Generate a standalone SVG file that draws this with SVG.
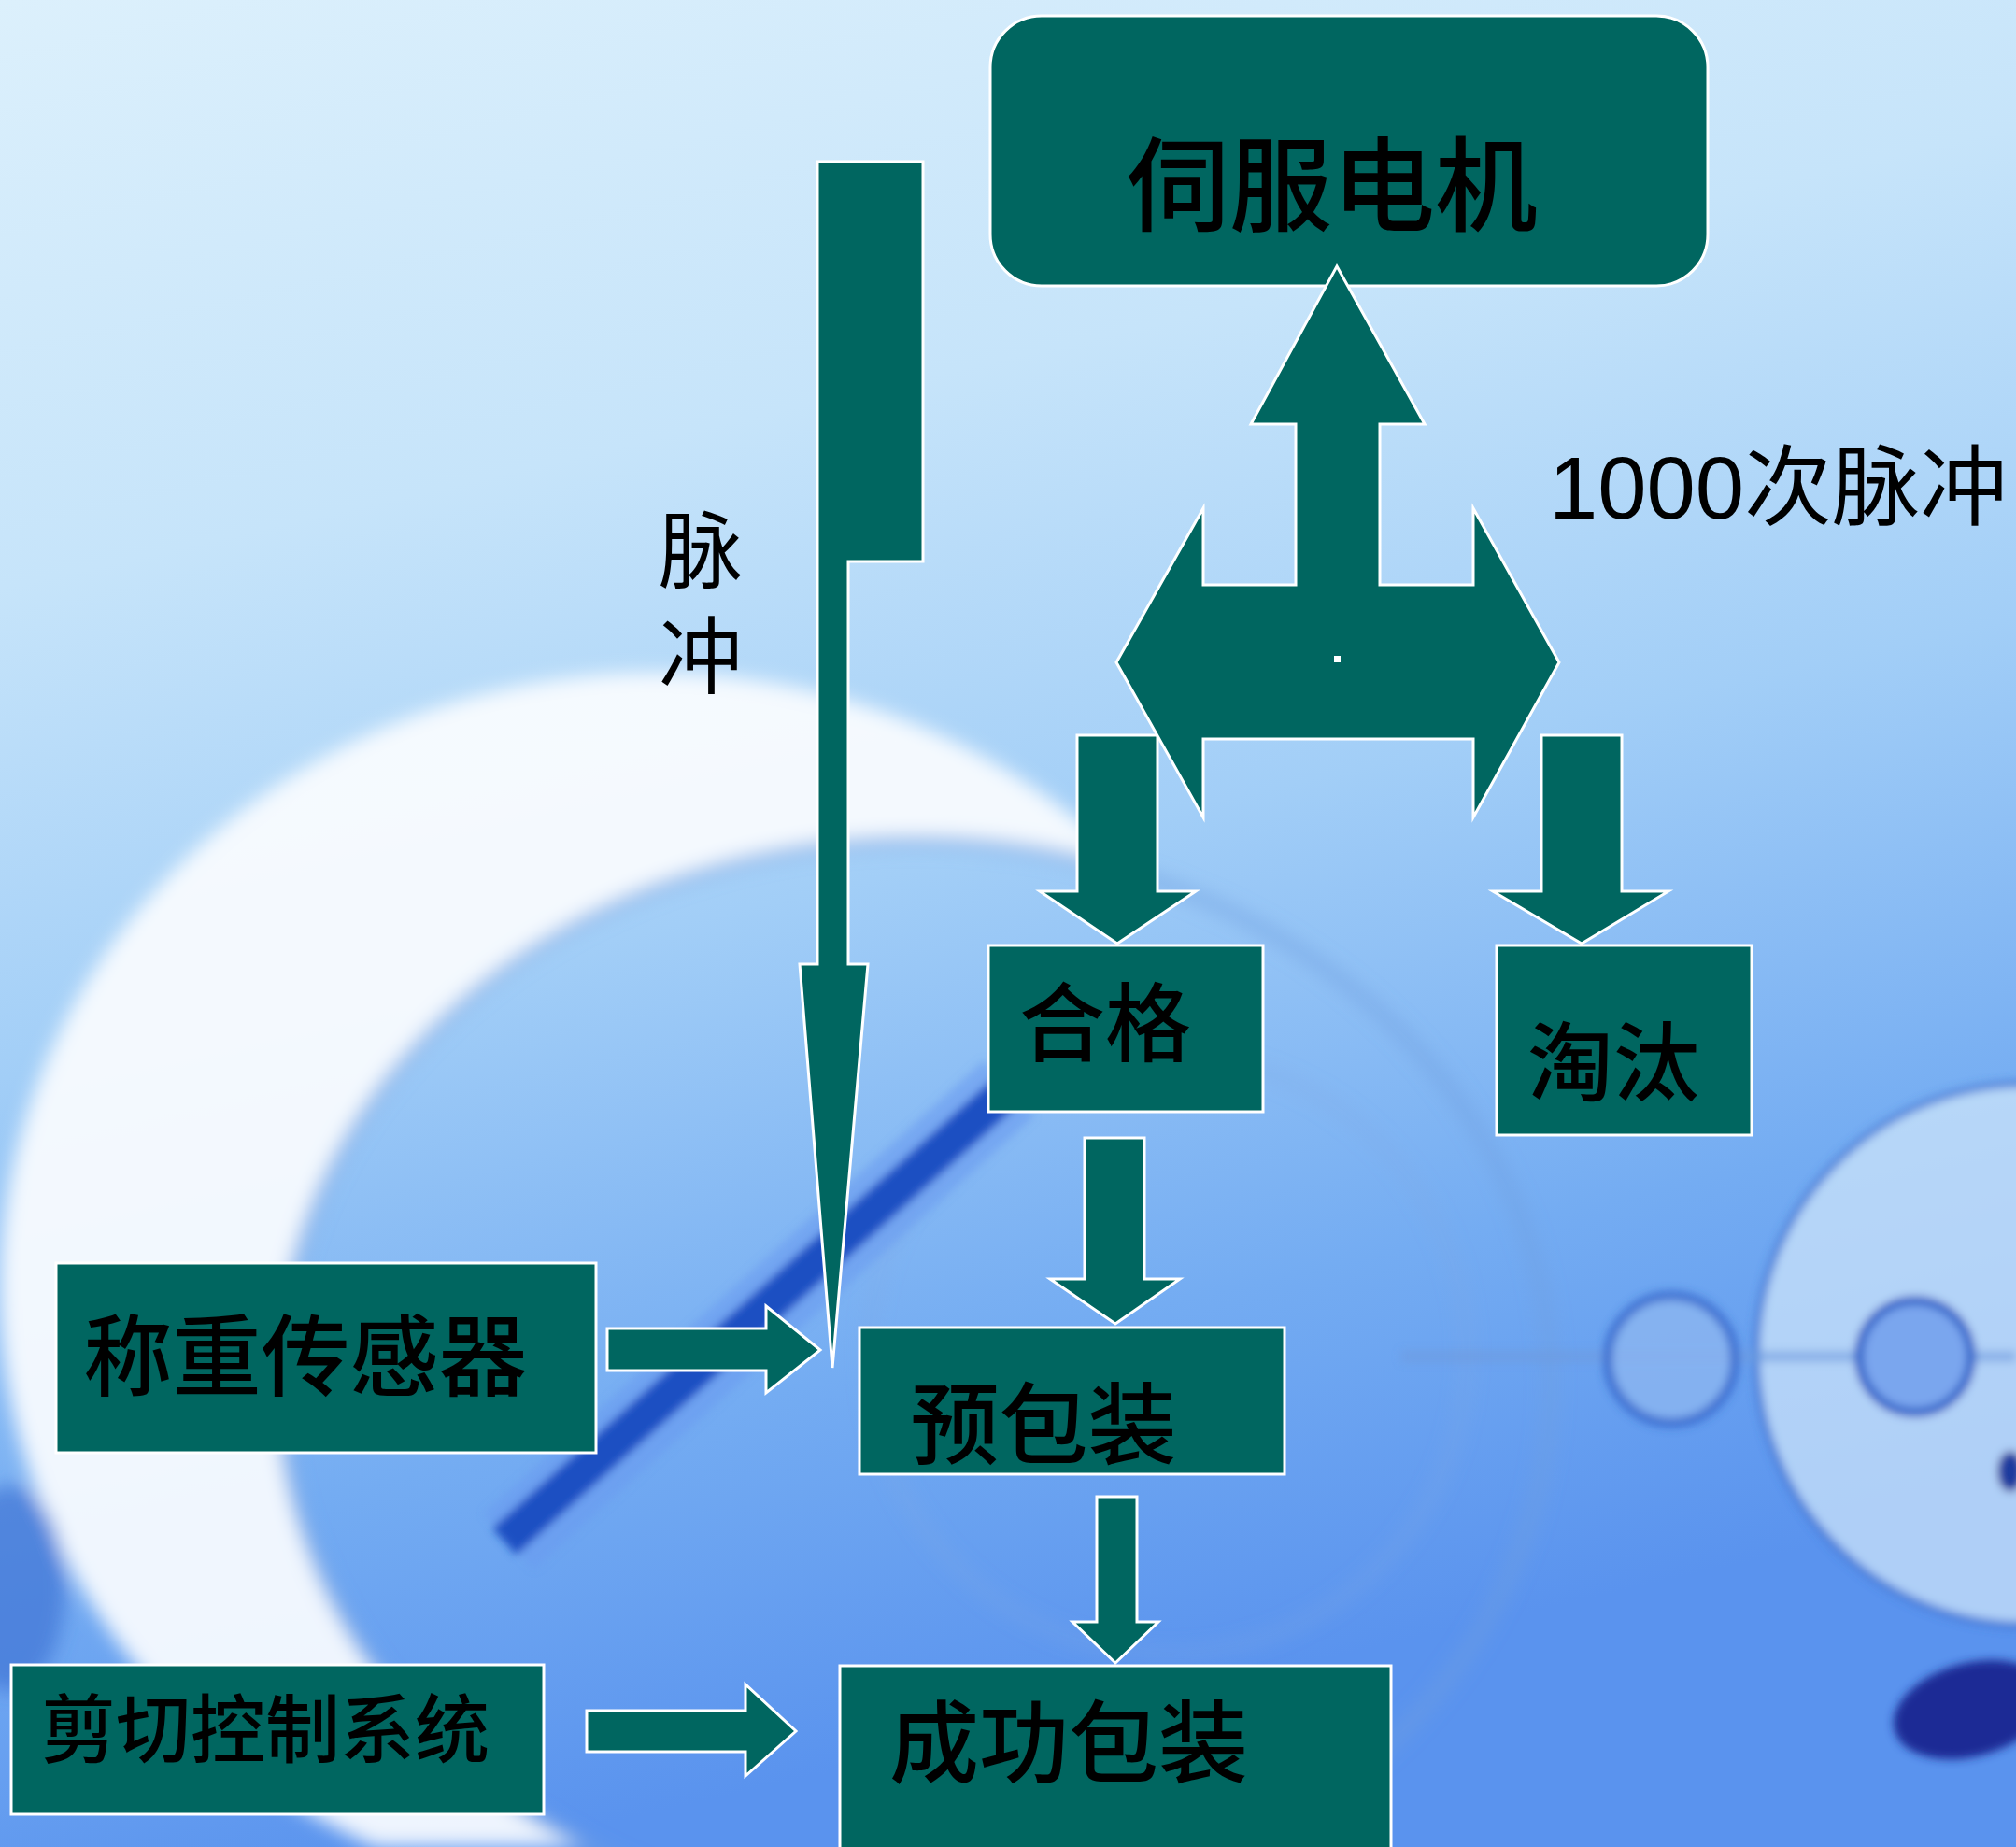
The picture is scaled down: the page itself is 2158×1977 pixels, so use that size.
<svg xmlns="http://www.w3.org/2000/svg" width="2158" height="1977" viewBox="0 0 2158 1977">
<defs>
  <linearGradient id="bg" x1="0" y1="0" x2="0.25" y2="1">
    <stop offset="0" stop-color="#dcf0fc"/>
    <stop offset="0.3" stop-color="#c6e4fa"/>
    <stop offset="0.55" stop-color="#a2cef7"/>
    <stop offset="0.8" stop-color="#74acf2"/>
    <stop offset="1" stop-color="#5a93ee"/>
  </linearGradient>
  <filter id="soft" x="-20%" y="-20%" width="140%" height="140%"><feGaussianBlur stdDeviation="10"/></filter>
  <filter id="soft2" x="-20%" y="-20%" width="140%" height="140%"><feGaussianBlur stdDeviation="5"/></filter>
  <mask id="crescent">
    <rect x="0" y="0" width="2158" height="1977" fill="#000"/>
    <ellipse cx="700" cy="1380" rx="700" ry="660" fill="#fff"/>
    <ellipse cx="980" cy="1480" rx="680" ry="580" fill="#000"/>
  </mask>
</defs>
<style>
  .box{fill:#006660;stroke:#ffffff;stroke-width:3}
  .arr{fill:#006660;stroke:#ffffff;stroke-width:3;stroke-linejoin:miter}
  .lbl{font-family:"Noto Sans CJK SC","Noto Sans CJK TC",sans-serif;font-weight:500;fill:#000;text-anchor:middle}
  .note{font-family:"Noto Sans CJK SC",sans-serif;font-weight:400;fill:#000}
</style>

<g id="background">
  <rect x="0" y="0" width="2158" height="1977" fill="url(#bg)"/>
  <g filter="url(#soft)">
    <rect x="0" y="0" width="2158" height="1977" fill="#fbfdff" opacity="0.92" mask="url(#crescent)"/>
    <ellipse cx="980" cy="1480" rx="680" ry="580" fill="none" stroke="#6f9fe0" stroke-width="12" opacity="0.6"/>
    <circle cx="1250" cy="1450" r="320" fill="none" stroke="#7fa8e6" stroke-width="8" opacity="0.5"/>
    <ellipse cx="10" cy="1700" rx="60" ry="110" fill="#3e74d4" opacity="0.7"/>
  </g>
  <g filter="url(#soft2)">
    <line x1="1080" y1="1165" x2="545" y2="1650" stroke="#6a9cf0" stroke-width="80" opacity="0.6"/>
    <line x1="1075" y1="1170" x2="540" y2="1650" stroke="#1d4fc2" stroke-width="38"/>
    <circle cx="2170" cy="1450" r="290" fill="#d3e8fb" opacity="0.7" stroke="#3f72cf" stroke-width="8"/>
    <line x1="1500" y1="1452" x2="2158" y2="1452" stroke="#6e9be0" stroke-width="12" opacity="0.6"/>
    <circle cx="1789" cy="1455" r="68" fill="#8db6f0" opacity="0.8" stroke="#2f62c8" stroke-width="10"/>
    <circle cx="2050" cy="1452" r="60" fill="#7aa6ee" stroke="#2f62c8" stroke-width="10"/>
    <ellipse cx="2110" cy="1830" rx="85" ry="50" fill="#1a2c95" transform="rotate(-15 2110 1830)"/>
    <ellipse cx="2152" cy="1575" rx="14" ry="22" fill="#1a3a9e"/>
  </g>
</g>

<g id="servo">
  <rect class="box" x="1060" y="17" width="768" height="289" rx="55" ry="55"/>
  <text class="lbl" x="1426" y="239" font-size="110">伺服电机</text>
</g>
<g id="qualified">
  <rect class="box" x="1058" y="1012" width="294" height="178"/>
  <text class="lbl" x="1183" y="1129" font-size="92">合格</text>
</g>
<g id="reject">
  <rect class="box" x="1602" y="1012" width="273" height="203"/>
  <text class="lbl" x="1727" y="1171" font-size="92">淘汰</text>
</g>
<g id="prepack">
  <rect class="box" x="920" y="1421" width="455" height="157"/>
  <text class="lbl" x="1117" y="1560" font-size="95">预包装</text>
</g>
<g id="success">
  <rect class="box" x="899" y="1783" width="590" height="210"/>
  <text class="lbl" x="1144" y="1900" font-size="96">成功包装</text>
</g>
<g id="weigh">
  <rect class="box" x="60" y="1352" width="578" height="203"/>
  <text class="lbl" x="327" y="1487" font-size="95">称重传感器</text>
</g>
<g id="cutter">
  <rect class="box" x="12" y="1782" width="570" height="160"/>
  <text class="lbl" x="284" y="1880" font-size="80">剪切控制系统</text>
</g>

<g id="labels">
  <text class="note" x="750" y="543" font-size="90" writing-mode="vertical-rl" letter-spacing="23">脉冲</text>
  <text x="1658" y="555" font-size="94" fill="#000" font-family="'Liberation Sans','Noto Sans CJK SC',sans-serif">1000次脉冲</text>
</g>

<g id="connectors">
  <polygon class="arr" points="875,173 988,173 988,601 908,601 908,1032 929,1032 891,1464 856,1032 875,1032"/>
  <polygon class="arr" points="1153,787 1239,787 1239,954 1280,954 1196,1010 1113,954 1153,954"/>
  <polygon class="arr" points="1650,787 1736,787 1736,954 1786,954 1693,1010 1598,954 1650,954"/>
  <polygon class="arr" points="1431,285 1525,454 1477,454 1477,626 1577,626 1577,544 1669,709 1577,875 1577,791 1288,791 1288,875 1195,709 1288,544 1288,626 1387,626 1387,454 1339,454"/>
  <rect x="1428" y="702" width="7" height="7" fill="#ffffff"/>
  <polygon class="arr" points="1161,1218 1225,1218 1225,1369 1263,1369 1194,1417 1124,1369 1161,1369"/>
  <polygon class="arr" points="1174,1602 1217,1602 1217,1736 1240,1736 1194,1780 1148,1736 1174,1736"/>
  <polygon class="arr" points="650,1422 820,1422 820,1398 878,1445 820,1491 820,1467 650,1467"/>
  <polygon class="arr" points="628,1831 798,1831 798,1803 852,1853 798,1901 798,1875 628,1875"/>
</g>
</svg>
